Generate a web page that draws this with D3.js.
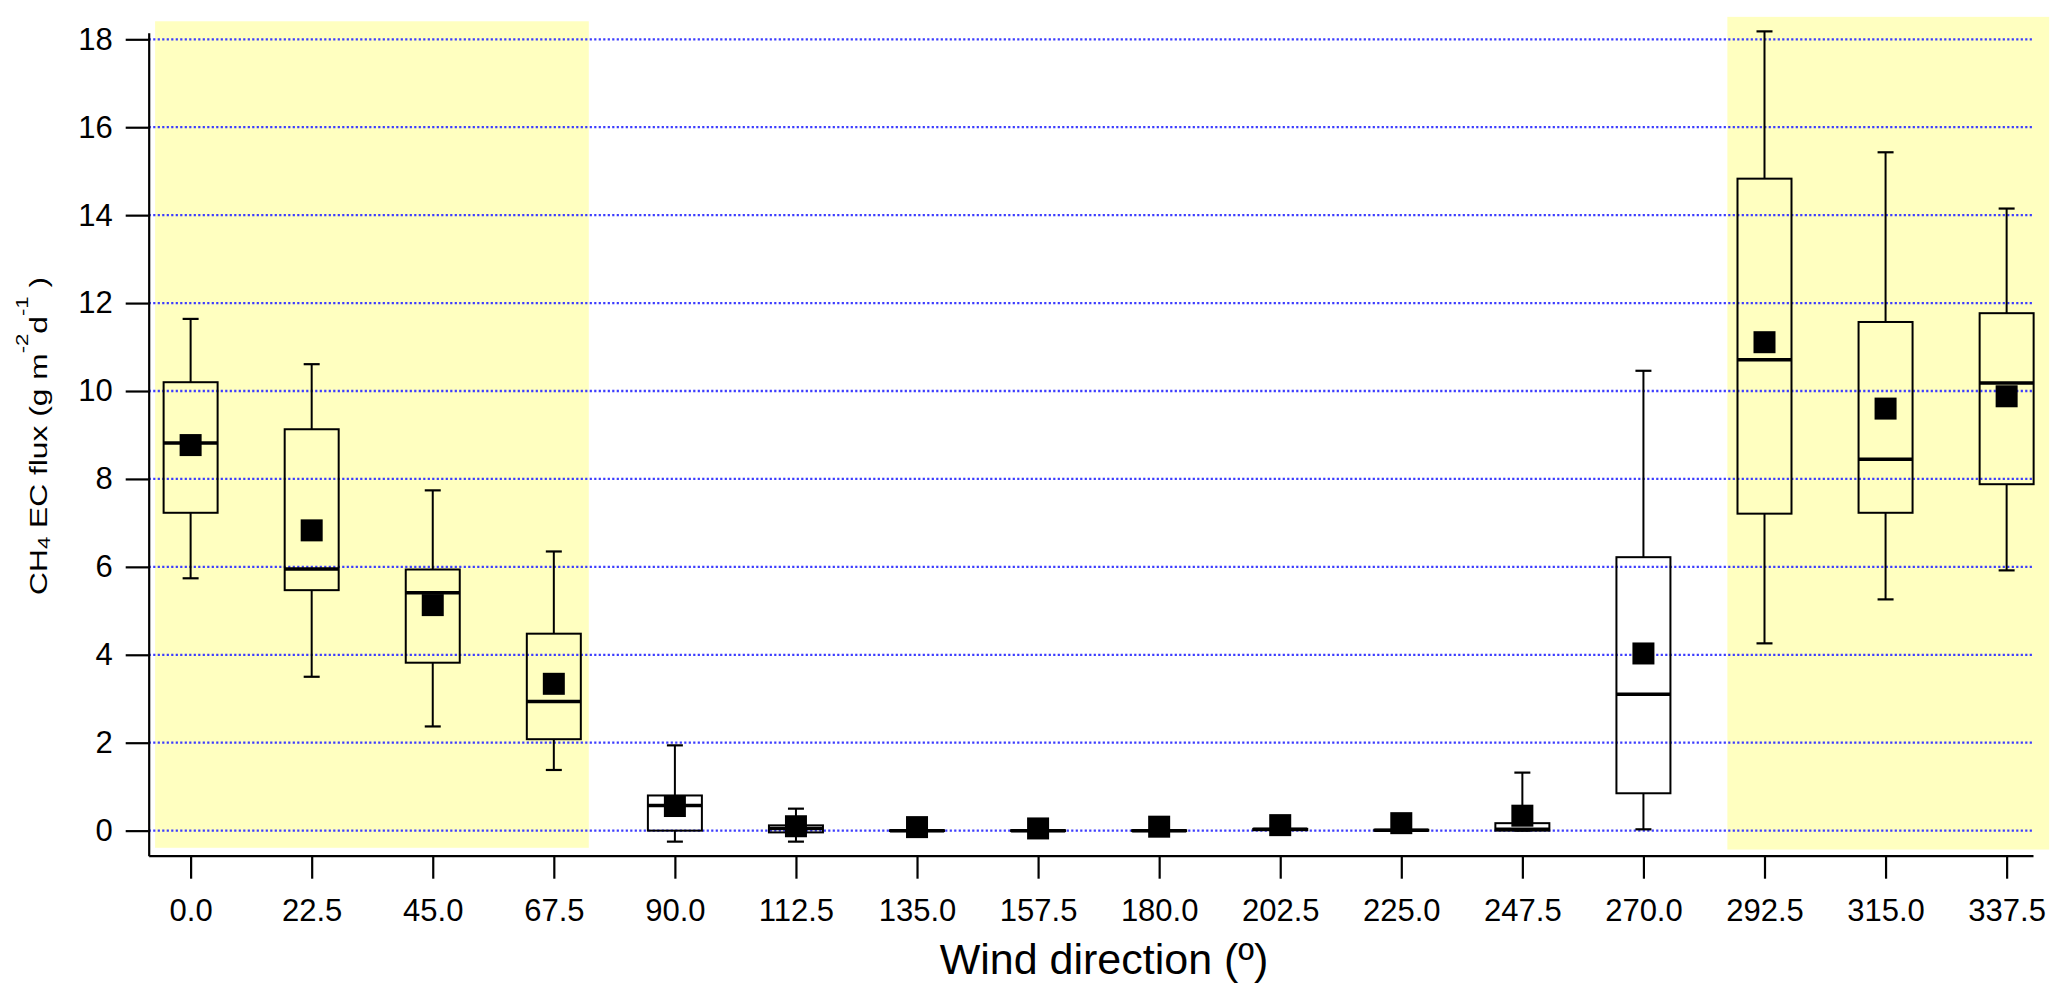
<!DOCTYPE html>
<html>
<head>
<meta charset="utf-8">
<script src="https://cdn.jsdelivr.net/npm/d3@7"></script>
<style>
  body { margin: 0; background: #fff; }
  text { font-family: "Liberation Sans", Arial, sans-serif; fill: #000; }
</style>
</head>
<body>
<div class="vis-box"></div>
<script>
// wind direction bins and box statistics
const directions = [0, 22.5, 45, 67.5, 90, 112.5, 135, 157.5, 180, 202.5, 225, 247.5, 270, 292.5, 315, 337.5];
const whiskerLow  = [5.74, 3.50, 2.37, 1.38, -0.25, -0.25, -0.05, -0.05, -0.05, -0.05, -0.05, 0.00, 0.03, 4.26, 5.26, 5.92];
const q1          = [7.23, 5.47, 3.82, 2.08, 0.00, -0.04, -0.01, -0.01, -0.01, 0.01, 0.00, 0.00, 0.85, 7.21, 7.23, 7.88];
const medians     = [8.82, 5.95, 5.41, 2.94, 0.57, 0.05, 0.00, 0.00, 0.00, 0.03, 0.01, 0.03, 3.10, 10.71, 8.45, 10.18];
const q3          = [10.20, 9.13, 5.94, 4.48, 0.80, 0.12, 0.01, 0.01, 0.01, 0.04, 0.02, 0.17, 6.22, 14.83, 11.57, 11.77];
const whiskerHigh = [11.64, 10.61, 7.74, 6.35, 1.94, 0.50, 0.10, 0.10, 0.10, 0.15, 0.15, 1.32, 10.46, 18.18, 15.43, 14.15];
const means       = [8.77, 6.83, 5.13, 3.34, 0.56, 0.10, 0.08, 0.05, 0.09, 0.125, 0.17, 0.34, 4.03, 11.11, 9.60, 9.88];

// shaded sectors (degrees, flux)
const shadeX0 = [-6.6, 285.6];
const shadeX1 = [74.0, 345.4];
const shadeY0 = [-0.39, -0.43];
const shadeY1 = [18.41, 18.51];

const yTicks = [0, 2, 4, 6, 8, 10, 12, 14, 16, 18];

const draw = () => {
    const W = 2067, H = 1001;
    const svg = d3.select(".vis-box")
        .append("svg")
        .attr("width", W)
        .attr("height", H);

    const x = d3.scaleLinear().domain([-7.79, 342.4]).range([148.7, 2033]);
    const y = d3.scaleLinear().domain([-0.57, 18.15]).range([855.7, 32.7]);

    // yellow sectors
    svg.append("g")
        .selectAll("rect")
        .data(shadeX0)
        .enter()
        .append("rect")
            .attr("x", (d, i) => x(d))
            .attr("width", (d, i) => x(shadeX1[i]) - x(d))
            .attr("y", (d, i) => y(shadeY1[i]))
            .attr("height", (d, i) => y(shadeY0[i]) - y(shadeY1[i]))
            .style("fill", "#ffffc0");

    // dotted grid
    svg.append("g")
        .selectAll("line")
        .data(yTicks)
        .enter()
        .append("line")
            .attr("x1", x.range()[0])
            .attr("x2", x.range()[1])
            .attr("y1", d => y(d))
            .attr("y2", d => y(d))
            .style("stroke", "#3c3cff")
            .style("stroke-width", 2.3)
            .style("stroke-dasharray", "2.2,2.3");

    const boxW = 54, capW = 16, meanS = 22;
    const g = svg.append("g").style("stroke", "#000").style("fill", "none");

    directions.forEach(function(d, i) {
        const cx = x(d);
        // whiskers
        g.append("line").attr("x1", cx).attr("x2", cx)
            .attr("y1", y(q3[i])).attr("y2", y(whiskerHigh[i])).style("stroke-width", 2);
        g.append("line").attr("x1", cx).attr("x2", cx)
            .attr("y1", y(q1[i])).attr("y2", y(whiskerLow[i])).style("stroke-width", 2);
        g.append("line").attr("x1", cx - capW / 2).attr("x2", cx + capW / 2)
            .attr("y1", y(whiskerHigh[i])).attr("y2", y(whiskerHigh[i])).style("stroke-width", 2.2);
        g.append("line").attr("x1", cx - capW / 2).attr("x2", cx + capW / 2)
            .attr("y1", y(whiskerLow[i])).attr("y2", y(whiskerLow[i])).style("stroke-width", 2.2);
        // box
        g.append("rect")
            .attr("x", cx - boxW / 2)
            .attr("width", boxW)
            .attr("y", y(q3[i]))
            .attr("height", Math.max(y(q1[i]) - y(q3[i]), 0.5))
            .style("stroke-width", 2);
        // median
        g.append("line").attr("x1", cx - boxW / 2).attr("x2", cx + boxW / 2)
            .attr("y1", y(medians[i])).attr("y2", y(medians[i])).style("stroke-width", 3.5);
    });

    // means
    svg.append("g")
        .selectAll("rect")
        .data(means)
        .enter()
        .append("rect")
            .attr("x", (d, i) => x(directions[i]) - meanS / 2)
            .attr("y", d => y(d) - meanS / 2)
            .attr("width", meanS)
            .attr("height", meanS)
            .style("fill", "#000");

    // axes
    const yAxis = svg.append("g")
        .attr("transform", "translate(" + x.range()[0] + ",0)")
        .call(d3.axisLeft(y).tickValues(yTicks).tickFormat(d3.format("d"))
            .tickSize(23).tickSizeOuter(0).tickPadding(13));
    const xAxis = svg.append("g")
        .attr("transform", "translate(0," + y.range()[0] + ")")
        .call(d3.axisBottom(x).tickValues(directions).tickFormat(d3.format(".1f"))
            .tickSize(23).tickSizeOuter(0).tickPadding(20.3));

    [yAxis, xAxis].forEach(a => {
        a.select(".domain").style("stroke", "#000").style("stroke-width", 2.2);
        a.selectAll(".tick line").style("stroke", "#000").style("stroke-width", 2.2);
        a.selectAll(".tick text").style("font-size", "31px").style("font-family", "'Liberation Sans', Arial, sans-serif").style("fill", "#000");
    });

    // x title
    svg.append("text")
        .attr("x", 1104)
        .attr("y", 974)
        .attr("text-anchor", "middle")
        .style("font-size", "43px")
        .text("Wind direction (º)");

    // y title
    const yt = svg.append("g")
        .attr("transform", "translate(47,436) rotate(-90)")
        .append("text")
        .attr("text-anchor", "middle")
        .style("font-size", "23px");
    yt.append("tspan").text("CH");
    yt.append("tspan").attr("dy", 3).style("font-size", "16px").text("4");
    yt.append("tspan").attr("dy", -3).text(" EC flux (g m");
    yt.append("tspan").attr("dy", -19).style("font-size", "16px").text("-2");
    yt.append("tspan").attr("dy", 19).text("d");
    yt.append("tspan").attr("dy", -19).style("font-size", "16px").text("-1");
    yt.append("tspan").attr("dy", 19).text(" )");
    const len = yt.node().getComputedTextLength();
    yt.attr("transform", "scale(" + (318 / len) + ",1)");
};

draw();
</script>
</body>
</html>
